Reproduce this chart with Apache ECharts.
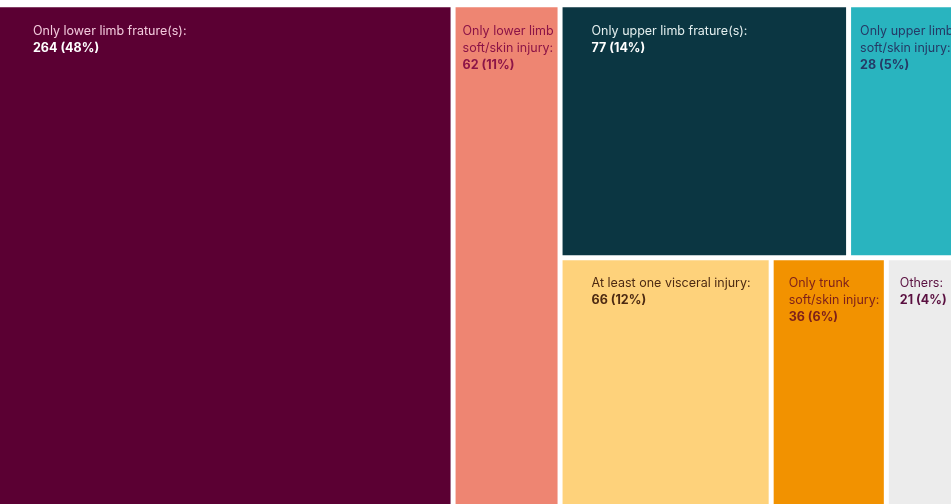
<!DOCTYPE html>
<html>
<head>
<meta charset="utf-8">
<script src="https://cdn.jsdelivr.net/npm/echarts@6/dist/echarts.min.js"></script>
<style>
  html, body { margin: 0; padding: 0; background: #ffffff; }
  #chart { width: 951px; height: 504px; }
</style>
</head>
<body>
<div id="chart"></div>
<script>
// ---- data ----
const categories = [
  'Only lower limb frature(s):',
  'Only lower limb\nsoft/skin injury:',
  'Only upper limb frature(s):',
  'Only upper limb\nsoft/skin injury:',
  'At least one visceral injury:',
  'Only trunk\nsoft/skin injury:',
  'Others:'
];
const values = [264, 62, 77, 28, 66, 36, 21];

// ---- styles ----
const fillColors = ['#5b0033', '#ee8572', '#0b3642', '#29b4bf', '#fed27b', '#f29200', '#ececec'];
const nameColors = ['#f2c9dc', '#8c1447', '#e3eeee', '#253a66', '#4d2a12', '#7d1f1a', '#5a1040'];
const valueColors = ['#ffffff', '#8c1447', '#ffffff', '#253a66', '#4d2a12', '#7d1f1a', '#5a1040'];
const padLeft = [33, 7, 29, 9, 29, 15, 11];

const total = values.reduce((a, b) => a + b, 0);

function leaf(i) {
  const pct = Math.round(values[i] / total * 100);
  return {
    name: categories[i],
    value: values[i],
    itemStyle: { color: fillColors[i], borderColor: '#ffffff', borderWidth: 2.5 },
    label: {
      show: true,
      position: 'insideTopLeft',
      distance: 0,
      padding: [15, 0, 0, padLeft[i]],
      overflow: 'none',
      formatter: function () {
        return '{n|' + categories[i] + '}\n{v|' + values[i] + ' (' + pct + '%)}';
      },
      rich: {
        n: { fontFamily: 'Inter', fontSize: 12.5, lineHeight: 17, color: nameColors[i] },
        v: { fontFamily: 'Inter', fontSize: 12.5, lineHeight: 17, fontWeight: 'bold', color: valueColors[i] }
      }
    }
  };
}

const treeData = [
  leaf(0),
  { name: 'g1', children: [
    leaf(1),
    { name: 'g2', children: [
      { name: 'upper', children: [leaf(2), leaf(3)] },
      { name: 'lower', children: [
        { name: 'g4', children: [leaf(4), leaf(5)] },
        leaf(6)
      ] }
    ] }
  ] }
];

const chart = echarts.init(document.getElementById('chart'), null, { renderer: 'canvas' });
chart.setOption({
  animation: false,
  tooltip: { show: false },
  series: [{
    type: 'treemap',
    left: -2.5,
    top: 4.8,
    width: 956,
    height: 549,
    sort: false,
    squareRatio: 1.25,
    roam: false,
    nodeClick: false,
    breadcrumb: { show: false },
    emphasis: { disabled: true },
    itemStyle: { borderWidth: 0, gapWidth: 0, borderColor: '#ffffff' },
    upperLabel: { show: false },
    data: treeData
  }]
});
</script>
</body>
</html>
